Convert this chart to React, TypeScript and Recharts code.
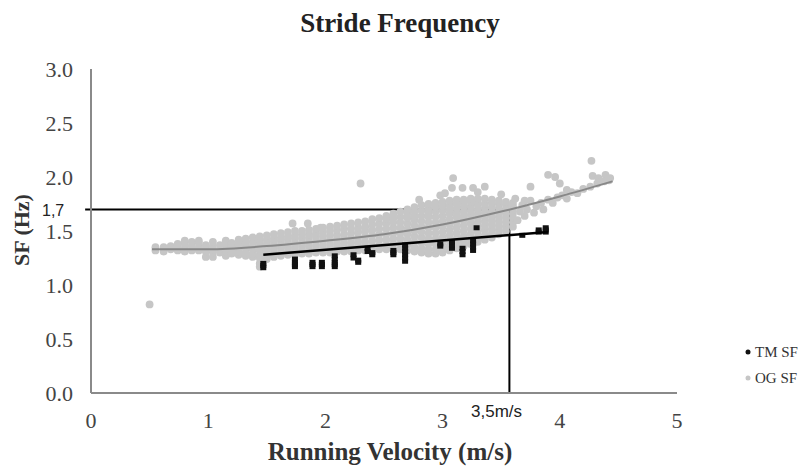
import React from 'react';
import { ScatterChart, Scatter, XAxis, YAxis, ReferenceLine } from 'recharts';

const xTicks = [0, 1, 2, 3, 4, 5];
const yTicks = [0, 0.5, 1, 1.5, 2, 2.5, 3];

// OG SF (overground) stride frequency samples, grouped by velocity column
const ogColumns: [number, number[]][] = [
  [0.55, [1.32, 1.35]],
  [0.62, [1.31, 1.35]],
  [0.68, [1.33, 1.36]],
  [0.74, [1.32, 1.35, 1.38]],
  [0.80, [1.31, 1.34, 1.38, 1.41]],
  [0.86, [1.32, 1.36, 1.40]],
  [0.92, [1.32, 1.35, 1.39, 1.41]],
  [0.98, [1.26, 1.31, 1.34, 1.37]],
  [1.04, [1.26, 1.30, 1.33, 1.36, 1.40]],
  [1.10, [1.30, 1.33, 1.37]],
  [1.15, [1.27, 1.31, 1.34, 1.38, 1.41]],
  [1.20, [1.29, 1.32, 1.36, 1.39]],
  [1.26, [1.28, 1.31, 1.35, 1.38, 1.42]],
  [1.32, [1.27, 1.30, 1.34, 1.37, 1.40, 1.43]],
  [1.38, [1.26, 1.29, 1.33, 1.36, 1.40, 1.44]],
  [1.44, [1.17, 1.20, 1.25, 1.28, 1.32, 1.35, 1.39, 1.42, 1.45]],
  [1.50, [1.24, 1.27, 1.31, 1.34, 1.38, 1.42, 1.46]],
  [1.56, [1.26, 1.29, 1.33, 1.36, 1.40, 1.43, 1.47]],
  [1.62, [1.27, 1.30, 1.34, 1.37, 1.41, 1.44, 1.48]],
  [1.68, [1.28, 1.31, 1.35, 1.38, 1.42, 1.45, 1.49]],
  [1.74, [1.28, 1.32, 1.35, 1.39, 1.43, 1.46, 1.50]],
  [1.80, [1.29, 1.32, 1.36, 1.39, 1.43, 1.47, 1.50]],
  [1.86, [1.29, 1.33, 1.36, 1.40, 1.44, 1.47, 1.51]],
  [1.92, [1.30, 1.33, 1.37, 1.41, 1.45, 1.48, 1.52]],
  [1.98, [1.30, 1.34, 1.37, 1.41, 1.45, 1.49, 1.53]],
  [2.04, [1.30, 1.34, 1.38, 1.42, 1.46, 1.50, 1.54]],
  [2.10, [1.31, 1.35, 1.38, 1.42, 1.46, 1.51, 1.55]],
  [2.16, [1.31, 1.35, 1.39, 1.43, 1.47, 1.52, 1.56]],
  [2.22, [1.31, 1.35, 1.39, 1.43, 1.48, 1.52, 1.57]],
  [2.28, [1.32, 1.36, 1.40, 1.44, 1.49, 1.53, 1.58]],
  [2.34, [1.32, 1.36, 1.40, 1.45, 1.50, 1.54, 1.59]],
  [2.40, [1.32, 1.36, 1.41, 1.46, 1.51, 1.56, 1.61]],
  [2.46, [1.33, 1.37, 1.42, 1.47, 1.52, 1.57, 1.62]],
  [2.52, [1.33, 1.37, 1.42, 1.47, 1.52, 1.57, 1.61, 1.64]],
  [2.58, [1.33, 1.38, 1.43, 1.48, 1.53, 1.58, 1.62, 1.66]],
  [2.64, [1.33, 1.38, 1.43, 1.48, 1.53, 1.58, 1.63, 1.68]],
  [2.70, [1.32, 1.37, 1.42, 1.47, 1.52, 1.57, 1.62, 1.66, 1.70]],
  [2.76, [1.31, 1.35, 1.40, 1.45, 1.50, 1.55, 1.60, 1.64, 1.68, 1.72]],
  [2.82, [1.30, 1.34, 1.39, 1.44, 1.49, 1.54, 1.59, 1.64, 1.69, 1.74]],
  [2.88, [1.29, 1.33, 1.38, 1.43, 1.48, 1.53, 1.58, 1.63, 1.67, 1.71, 1.75]],
  [2.94, [1.29, 1.33, 1.38, 1.43, 1.48, 1.53, 1.58, 1.63, 1.68, 1.72, 1.76]],
  [3.00, [1.30, 1.34, 1.39, 1.44, 1.49, 1.54, 1.59, 1.64, 1.69, 1.73, 1.77]],
  [3.06, [1.32, 1.36, 1.41, 1.46, 1.51, 1.56, 1.61, 1.66, 1.70, 1.74, 1.78]],
  [3.12, [1.34, 1.38, 1.43, 1.48, 1.53, 1.58, 1.63, 1.67, 1.71, 1.75, 1.79]],
  [3.18, [1.36, 1.40, 1.45, 1.50, 1.55, 1.60, 1.64, 1.68, 1.72, 1.76, 1.79]],
  [3.24, [1.38, 1.42, 1.47, 1.52, 1.57, 1.61, 1.65, 1.69, 1.73, 1.77, 1.80]],
  [3.30, [1.40, 1.44, 1.49, 1.54, 1.58, 1.62, 1.66, 1.70, 1.74, 1.77, 1.80]],
  [3.36, [1.42, 1.46, 1.51, 1.55, 1.59, 1.63, 1.67, 1.71, 1.75, 1.80]],
  [3.42, [1.44, 1.48, 1.52, 1.56, 1.60, 1.64, 1.68, 1.72, 1.76, 1.79]],
  [3.48, [1.47, 1.51, 1.55, 1.59, 1.63, 1.67, 1.71, 1.75, 1.78]],
  [3.54, [1.50, 1.54, 1.58, 1.62, 1.66, 1.70, 1.74, 1.77]],
  [3.60, [1.54, 1.58, 1.62, 1.66, 1.70, 1.73, 1.76]],
];

// scattered OG SF samples outside the dense band
const ogScattered: [number, number][] = [
  [0.5, 0.82], [1.72, 1.57], [1.85, 1.57], [1.96, 1.53], [2.30, 1.94], [2.80, 1.79],
  [3.09, 1.99], [3.08, 1.90], [3.17, 1.90], [3.26, 1.90], [3.36, 1.91], [3.75, 1.91],
  [3.90, 2.02], [3.96, 2.00], [4.00, 1.94], [4.27, 2.15], [4.28, 2.01], [4.33, 1.99],
  [4.39, 2.02], [4.06, 1.88], [4.36, 1.96], [4.42, 1.97], [2.98, 1.83], [3.02, 1.85],
  [3.30, 1.86], [3.50, 1.84], [3.62, 1.80], [3.70, 1.78],
  [3.64, 1.60], [3.66, 1.68], [3.68, 1.74], [3.70, 1.64], [3.72, 1.70], [3.75, 1.78],
  [3.78, 1.67], [3.80, 1.73], [3.84, 1.76], [3.86, 1.70], [3.90, 1.79], [3.94, 1.76],
  [3.98, 1.81], [4.02, 1.83], [4.06, 1.80], [4.10, 1.86], [4.15, 1.85], [4.20, 1.89],
  [4.26, 1.91], [4.32, 1.94], [4.38, 1.96], [4.43, 1.99],
];

// TM SF (treadmill) samples, grouped by velocity column
const tmColumns: [number, number[]][] = [
  [1.47, [1.16, 1.18, 1.20]],
  [1.74, [1.17, 1.19, 1.21, 1.24]],
  [1.89, [1.17, 1.19, 1.21]],
  [1.97, [1.17, 1.19, 1.21]],
  [2.08, [1.17, 1.19, 1.21, 1.24, 1.27]],
  [2.24, [1.25, 1.28]],
  [2.28, [1.21, 1.23]],
  [2.36, [1.31, 1.34]],
  [2.40, [1.28, 1.30]],
  [2.58, [1.28, 1.30, 1.32]],
  [2.68, [1.22, 1.25, 1.28, 1.31, 1.34, 1.37]],
  [2.98, [1.36, 1.38]],
  [3.08, [1.34, 1.37, 1.40]],
  [3.17, [1.28, 1.31, 1.34]],
  [3.26, [1.32, 1.35, 1.38, 1.41]],
  [3.29, [1.53]],
  [3.68, [1.46]],
  [3.82, [1.49, 1.51]],
  [3.88, [1.49, 1.51, 1.53]],
];

const ogTrendX = [0.52, 1.0, 1.5, 2.0, 2.5, 3.0, 3.5, 4.0, 4.45];
const ogTrendY = [1.33, 1.33, 1.36, 1.41, 1.47, 1.56, 1.68, 1.82, 1.96];
const tmTrendX = [1.47, 3.9];
const tmTrendY = [1.28, 1.49];

const refY = 1.7;
const refX = 3.57;
const refStartX = -0.05;

const ogData = [
  ...ogColumns.flatMap(([x, ys]) => ys.map((y) => ({ x, y }))),
  ...ogScattered.map(([x, y]) => ({ x, y })),
];
const tmData = tmColumns.flatMap(([x, ys]) => ys.map((y) => ({ x, y })));
const ogTrend = ogTrendX.map((x, i) => ({ x, y: ogTrendY[i] }));
const tmTrend = tmTrendX.map((x, i) => ({ x, y: tmTrendY[i] }));

const SERIF = "'Liberation Serif', 'Times New Roman', serif";
const SANS = "'Liberation Sans', Arial, sans-serif";

const GreyDot = (p: any) => <circle cx={p.cx} cy={p.cy} r={3.9} fill="#c6c6c6" />;
const BlackMark = (p: any) => <rect x={p.cx - 3} y={p.cy - 2.5} width={6} height={5} fill="#111" />;
const NoMark = (p: any) => <circle cx={p.cx} cy={p.cy} r={0} fill="none" />;

export default function App() {
  return (
    <div style={{ position: 'absolute', left: 0, top: 0, width: 801, height: 466, background: '#fff' }}>
      <ScatterChart width={801} height={466} margin={{ top: 69, right: 124, bottom: 43, left: 0 }}>
        <XAxis
          type="number"
          dataKey="x"
          domain={[0, 5]}
          ticks={xTicks}
          tickLine={false}
          tickSize={0}
          tickMargin={19}
          height={30}
          axisLine={{ stroke: '#8a8a8a', strokeWidth: 2 }}
          tick={{ fontSize: 22, fill: '#444', fontFamily: SERIF }}
          allowDataOverflow
        />
        <YAxis
          type="number"
          dataKey="y"
          domain={[0, 3]}
          ticks={yTicks}
          tickFormatter={(v: number) => v.toFixed(1)}
          width={91}
          tickLine={false}
          tickSize={0}
          tickMargin={18}
          axisLine={{ stroke: '#8a8a8a', strokeWidth: 2 }}
          tick={{ fontSize: 22, fill: '#444', fontFamily: SERIF }}
          allowDataOverflow
        />
        <Scatter name="OG SF" data={ogData} shape={GreyDot} isAnimationActive={false} />
        <Scatter
          data={ogTrend}
          shape={NoMark}
          line={{ stroke: '#888', strokeWidth: 2 }}
          lineJointType="monotoneX"
          isAnimationActive={false}
        />
        <Scatter name="TM SF" data={tmData} shape={BlackMark} isAnimationActive={false} />
        <Scatter
          data={tmTrend}
          shape={NoMark}
          line={{ stroke: '#000', strokeWidth: 2.5 }}
          isAnimationActive={false}
        />
        <ReferenceLine
          segment={[{ x: refStartX, y: refY }, { x: refX, y: refY }]}
          stroke="#000"
          strokeWidth={2}
          ifOverflow="visible"
        />
        <ReferenceLine
          segment={[{ x: refX, y: 0 }, { x: refX, y: refY }]}
          stroke="#000"
          strokeWidth={2}
          ifOverflow="visible"
        />
      </ScatterChart>
      <svg
        width={801}
        height={466}
        style={{ position: 'absolute', left: 0, top: 0, pointerEvents: 'none' }}
      >
        <text x={400} y={32} textAnchor="middle" fontFamily={SERIF} fontWeight="bold" fontSize={27} fill="#222">
          Stride Frequency
        </text>
        <text x={390} y={460} textAnchor="middle" fontFamily={SERIF} fontWeight="bold" fontSize={25} fill="#333">
          Running Velocity (m/s)
        </text>
        <text
          x={0}
          y={0}
          transform="translate(29,230) rotate(-90)"
          textAnchor="middle"
          fontFamily={SERIF}
          fontWeight="bold"
          fontSize={22}
          fill="#333"
        >
          SF (Hz)
        </text>
        <text x={42} y={216} fontFamily={SANS} fontSize={16} fill="#222">1,7</text>
        <text x={471} y={417} fontFamily={SANS} fontSize={17} fill="#222">3,5m/s</text>
        <circle cx={748} cy={352} r={2.5} fill="#111" />
        <text x={755} y={357} fontFamily={SERIF} fontSize={15} fill="#333">TM SF</text>
        <circle cx={748} cy={378} r={2.5} fill="#c6c6c6" />
        <text x={755} y={383} fontFamily={SERIF} fontSize={15} fill="#333">OG SF</text>
      </svg>
    </div>
  );
}
